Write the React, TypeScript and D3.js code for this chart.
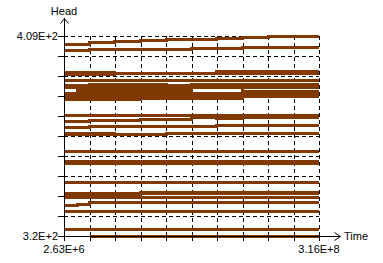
import React from "react";
import * as d3 from "d3";

const W = 383;
const H = 263;
const X_DOMAIN = [2.63e6, 3.16e8];
const Y_DOMAIN = [320, 409];
const X_LABELS = ["2.63E+6", "3.16E+8"];
const Y_LABELS = ["3.2E+2", "4.09E+2"];
const AXIS_TITLES = ["Time", "Head"];

// step times (start of each interval, plus final end time)
const TIMES = [2.63e6, 1.9e7, 3.397e7, 6.53e7, 9.664e7, 1.2798e8, 1.5932e8, 1.9065e8, 2.2199e8, 2.5333e8, 2.8466e8, 3.16e8];

const sA = [405.4, 405.4, 406.0, 406.5, 406.9, 407.3, 407.3, 407.7, 408.2, 408.6, 408.6];
const sB = [402.5, 402.5, 402.9, 402.9, 402.9, 403.2, 403.5, 403.5, 404.1, 404.1, 404.1];
const sC1 = [392.7, 392.7, 392.7, 392.4, 392.4, 392.4, 392.4, 393.1, 393.1, 393.1, 393.1];
const sC2 = [392.0, 392.0, 392.0, 392.4, 392.4, 392.4, 392.4, 392.4, 392.4, 392.4, 392.4];
const sD1 = [389.0, 389.0, 389.0, 389.0, 389.0, 389.0, 389.0, 389.0, 389.0, 389.0, 389.0];
const sD2 = [386.9, 386.9, 387.5, 387.5, 387.5, 386.9, 387.5, 387.5, 387.5, 387.5, 387.5];
const sD3 = [385.9, 385.9, 385.9, 385.9, 385.9, 385.9, 385.9, 385.9, 385.9, 385.9, 385.9];
const sD4 = [385.9, 384.7, 384.7, 384.7, 384.7, 384.7, 385.9, 385.9, 384.5, 384.5, 384.5];
const sD5 = [383.6, 383.6, 383.6, 383.6, 383.6, 383.6, 383.6, 383.6, 383.6, 383.6, 383.6];
const sD6 = [382.5, 382.5, 382.5, 382.5, 382.5, 382.5, 382.5, 382.5, 382.5, 382.7, 382.7];
const sD7 = [381.5, 381.5, 381.5, 381.5, 381.5, 381.5, 381.5, 381.5, 382.3, 382.3, 382.3];
const sD8 = [380.6, 380.6, 380.6, 380.6, 381.3, 381.3, 381.3, 381.3, 382.3, 382.3, 382.3];
const sE1 = [373.8, 373.8, 373.8, 373.8, 373.8, 373.8, 373.8, 373.8, 373.8, 373.8, 373.8];
const sE2 = [371.0, 371.0, 371.4, 371.4, 371.8, 371.8, 372.7, 372.3, 372.7, 372.7, 372.7];
const sF = [368.1, 368.1, 368.7, 368.7, 368.7, 368.7, 368.7, 369.2, 369.2, 369.2, 369.2];
const sG1 = [365.2, 365.2, 365.2, 365.3, 365.3, 365.7, 365.7, 365.7, 365.7, 365.7, 365.7];
const sG2 = [365.8, 365.8, 365.8, 365.3, 365.3, 365.7, 365.7, 365.7, 365.7, 365.7, 365.7];
const sH = [357.4, 357.4, 357.4, 357.4, 357.4, 357.5, 357.5, 357.5, 357.5, 357.5, 357.5];
const sI1 = [353.2, 353.2, 353.2, 353.2, 353.2, 353.2, 353.2, 353.2, 353.2, 353.2, 353.2];
const sI2 = [352.3, 352.3, 352.3, 352.3, 352.3, 352.3, 352.3, 352.3, 352.3, 352.3, 352.3];
const sJ = [344.0, 344.0, 344.0, 344.0, 344.0, 344.0, 344.0, 344.0, 344.0, 344.0, 344.0];
const sK1 = [339.0, 339.0, 339.0, 339.0, 339.4, 339.4, 339.4, 339.4, 339.4, 339.4, 339.4];
const sK2 = [338.2, 338.2, 338.2, 338.2, 338.7, 338.7, 338.7, 338.7, 338.7, 338.7, 338.7];
const sL = [337.0, 337.0, 337.0, 337.0, 337.0, 337.0, 337.0, 337.0, 337.0, 337.0, 337.0];
const sM = [333.5, 334.1, 334.7, 334.7, 334.7, 334.7, 334.7, 334.7, 334.7, 334.7, 334.7];
const sN = [330.7, 330.7, 330.7, 330.7, 330.7, 330.7, 330.7, 330.7, 330.7, 330.7, 330.7];
const sO = [323.1, 323.1, 323.1, 323.1, 323.1, 323.1, 323.1, 323.1, 323.1, 323.1, 323.1];
const sP = [null, null, 320.0, 320.0, 320.0, 320.0, 320.0, 320.0, 320.0, 320.0, 320.0];

const SERIES = [sA, sB, sC1, sC2, sD1, sD2, sD3, sD4, sD5, sD6, sD7, sD8, sE1, sE2, sF, sG1, sG2, sH, sI1, sI2, sJ, sK1, sK2, sL, sM, sN, sO, sP];

const N_DIV = 10;
const LINE_COLOR = "#803900";
const FONT = "Arial, 'Liberation Sans', sans-serif";

export default function App() {
  const x0 = 64, x1 = 319, yTop = 36, yBot = 236;
  const x = d3.scaleLinear().domain(X_DOMAIN).range([x0, x1]);
  const y = d3.scaleLinear().domain(Y_DOMAIN).range([yBot, yTop]);

  const xTicks = d3.range(N_DIV + 1).map((i) => X_DOMAIN[0] + (i * (X_DOMAIN[1] - X_DOMAIN[0])) / N_DIV);
  const yTicks = d3.range(N_DIV + 1).map((i) => Y_DOMAIN[0] + (i * (Y_DOMAIN[1] - Y_DOMAIN[0])) / N_DIV);

  const line = d3
    .line<{ t: number; v: number | null }>()
    .defined((d) => d.v !== null)
    .x((d) => x(d.t))
    .y((d) => y(d.v as number))
    .curve(d3.curveStepAfter);

  const paths = SERIES.map((s) => {
    const pts = s.map((v, i) => ({ t: TIMES[i], v }));
    pts.push({ t: TIMES[TIMES.length - 1], v: s[s.length - 1] });
    return line(pts) || "";
  });

  const px = (v: number) => Math.round(v) + 0.5;

  return (
    <svg width={W} height={H} style={{ position: "absolute", left: 0, top: 0, display: "block", background: "#fff" }}>
      <rect x={0} y={0} width={W} height={H} fill="#fff" />
      {/* grid */}
      <g stroke="#000" strokeWidth={1} strokeDasharray="4,3" shapeRendering="crispEdges">
        {yTicks.slice(1).map((t, i) => (
          <line key={"gy" + i} x1={x0} x2={x1} y1={px(y(t))} y2={px(y(t))} />
        ))}
        {xTicks.slice(1).map((t, i) => (
          <line key={"gx" + i} x1={px(x(t))} x2={px(x(t))} y1={yTop} y2={yBot} />
        ))}
      </g>
      {/* data */}
      <g fill="none" stroke={LINE_COLOR} strokeWidth={3} shapeRendering="crispEdges">
        {paths.map((d, i) => (
          <path key={"s" + i} d={d} />
        ))}
      </g>
      {/* axes */}
      <g stroke="#000" strokeWidth={1} shapeRendering="crispEdges">
        <line x1={px(x0)} x2={px(x0)} y1={18} y2={yBot + 1} />
        <line x1={x0} x2={340} y1={px(yBot)} y2={px(yBot)} />
        {yTicks.map((t, i) => (
          <line key={"ty" + i} x1={58} x2={x0} y1={px(y(t))} y2={px(y(t))} />
        ))}
        {xTicks.map((t, i) => (
          <line key={"tx" + i} x1={px(x(t))} x2={px(x(t))} y1={yBot} y2={241} />
        ))}
      </g>
      <g stroke="#000" strokeWidth={1} fill="none">
        <polyline points={`${60.5},${23.5} ${64.5},${18.5} ${68.5},${23.5}`} />
        <polyline points={`${334.5},${232.5} ${340.5},${236.5} ${334.5},${240.5}`} />
      </g>
      <g fontFamily={FONT} fontSize={11} fill="#000">
        <text x={64} y={15} textAnchor="middle">{AXIS_TITLES[1]}</text>
        <text x={344} y={240}>{AXIS_TITLES[0]}</text>
        <text x={58} y={40} textAnchor="end">{Y_LABELS[1]}</text>
        <text x={58} y={240} textAnchor="end">{Y_LABELS[0]}</text>
        <text x={x(X_DOMAIN[0])} y={253} textAnchor="middle">{X_LABELS[0]}</text>
        <text x={x(X_DOMAIN[1])} y={253} textAnchor="middle">{X_LABELS[1]}</text>
      </g>
    </svg>
  );
}
